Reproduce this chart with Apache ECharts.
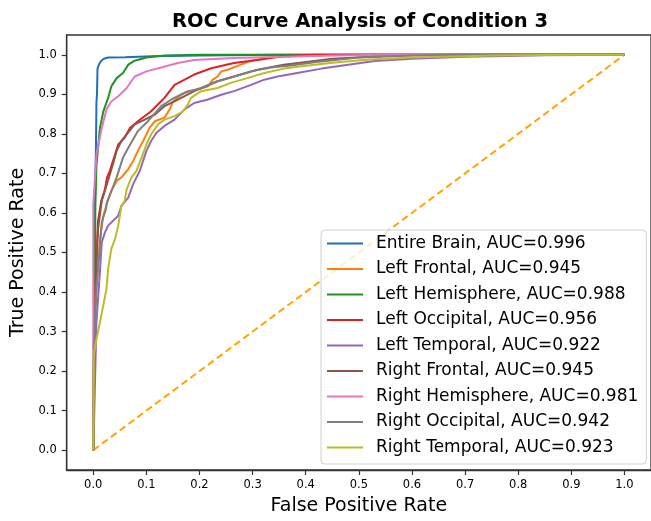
<!DOCTYPE html>
<html>
<head>
<meta charset="utf-8">
<script src="https://cdn.jsdelivr.net/npm/echarts@6/dist/echarts.min.js"></script>
<style>
html,body{margin:0;padding:0;background:#fff;}
#chart{width:651px;height:521px;}
</style>
</head>
<body>
<div id="chart"></div>
<script>
// Tick labels
const tickValues = [0, 0.1, 0.2, 0.3, 0.4, 0.5, 0.6, 0.7, 0.8, 0.9, 1.0];

// Series names
const seriesNames = [
  'Entire Brain, AUC=0.996',
  'Left Frontal, AUC=0.945',
  'Left Hemisphere, AUC=0.988',
  'Left Occipital, AUC=0.956',
  'Left Temporal, AUC=0.922',
  'Right Frontal, AUC=0.945',
  'Right Hemisphere, AUC=0.981',
  'Right Occipital, AUC=0.942',
  'Right Temporal, AUC=0.923'
];

// ROC curves (FPR, TPR)
const entireBrainFpr = [0, 0.002, 0.003, 0.005, 0.006, 0.007, 0.008, 0.011, 0.015, 0.020, 0.028, 0.060, 0.110, 0.200, 0.350, 1.0];
const entireBrainTpr = [0, 0.35, 0.62, 0.76, 0.88, 0.90, 0.965, 0.976, 0.985, 0.990, 0.993, 0.994, 0.996, 0.998, 1.0, 1.0];

const leftFrontalFpr = [0, 0.001, 0.003, 0.008, 0.0126, 0.019, 0.028, 0.034, 0.044, 0.053, 0.066, 0.075, 0.084, 0.094, 0.106, 0.116, 0.134, 0.144, 0.150, 0.166, 0.178, 0.197, 0.216, 0.225, 0.234, 0.241, 0.253, 0.278, 0.297, 0.334, 0.400, 0.500, 1.0];
const leftFrontalTpr = [0, 0.20, 0.34, 0.45, 0.534, 0.593, 0.635, 0.656, 0.681, 0.690, 0.711, 0.731, 0.757, 0.782, 0.815, 0.832, 0.841, 0.862, 0.882, 0.899, 0.908, 0.912, 0.920, 0.937, 0.945, 0.958, 0.962, 0.975, 0.985, 0.993, 0.998, 1.0, 1.0];

const leftHemiFpr = [0, 0.001, 0.003, 0.004, 0.006, 0.0126, 0.019, 0.028, 0.034, 0.044, 0.056, 0.066, 0.078, 0.100, 0.134, 0.200, 1.0];
const leftHemiTpr = [0, 0.25, 0.45, 0.62, 0.72, 0.815, 0.857, 0.891, 0.920, 0.941, 0.954, 0.975, 0.985, 0.993, 0.998, 1.0, 1.0];

const leftOccFpr = [0, 0.002, 0.005, 0.009, 0.015, 0.022, 0.026, 0.031, 0.047, 0.059, 0.069, 0.084, 0.109, 0.134, 0.153, 0.172, 0.190, 0.222, 0.265, 0.309, 0.340, 0.360, 0.420, 1.0];
const leftOccTpr = [0, 0.30, 0.45, 0.58, 0.63, 0.66, 0.69, 0.706, 0.773, 0.790, 0.815, 0.832, 0.857, 0.891, 0.924, 0.937, 0.950, 0.966, 0.979, 0.987, 0.993, 0.997, 1.0, 1.0];

const leftTempFpr = [0, 0.002, 0.003, 0.006, 0.0125, 0.016, 0.022, 0.028, 0.047, 0.053, 0.066, 0.075, 0.0875, 0.100, 0.109, 0.119, 0.134, 0.153, 0.172, 0.190, 0.216, 0.241, 0.265, 0.297, 0.322, 0.347, 0.384, 0.430, 0.480, 0.530, 0.600, 0.700, 0.850, 1.0];
const leftTempTpr = [0, 0.10, 0.157, 0.325, 0.45, 0.526, 0.551, 0.568, 0.593, 0.618, 0.639, 0.673, 0.706, 0.757, 0.782, 0.803, 0.820, 0.836, 0.862, 0.878, 0.887, 0.899, 0.908, 0.924, 0.937, 0.945, 0.954, 0.965, 0.975, 0.984, 0.990, 0.995, 0.999, 1.0];

const rightFrontalFpr = [0, 0.002, 0.005, 0.009, 0.013, 0.016, 0.022, 0.037, 0.044, 0.053, 0.063, 0.078, 0.097, 0.116, 0.134, 0.153, 0.190, 0.234, 0.265, 0.309, 0.359, 0.450, 0.550, 0.650, 1.0];
const rightFrontalTpr = [0, 0.30, 0.45, 0.56, 0.60, 0.631, 0.656, 0.723, 0.757, 0.782, 0.799, 0.824, 0.836, 0.849, 0.870, 0.882, 0.908, 0.933, 0.945, 0.962, 0.975, 0.990, 0.997, 1.0, 1.0];

const rightHemiFpr = [0, 0, 0.006, 0.016, 0.025, 0.034, 0.047, 0.063, 0.078, 0.100, 0.128, 0.159, 0.190, 0.265, 0.360, 0.450, 0.550, 1.0];
const rightHemiTpr = [0, 0.62, 0.748, 0.815, 0.862, 0.882, 0.895, 0.916, 0.945, 0.958, 0.968, 0.979, 0.987, 0.992, 0.995, 0.998, 1.0, 1.0];

const rightOccFpr = [0, 0.001, 0.003, 0.006, 0.011, 0.016, 0.024, 0.025, 0.044, 0.056, 0.066, 0.084, 0.103, 0.128, 0.147, 0.172, 0.203, 0.234, 0.265, 0.297, 0.334, 0.372, 0.420, 0.500, 0.600, 0.700, 1.0];
const rightOccTpr = [0, 0.20, 0.325, 0.41, 0.49, 0.577, 0.61, 0.623, 0.690, 0.740, 0.765, 0.807, 0.832, 0.870, 0.887, 0.904, 0.916, 0.933, 0.945, 0.958, 0.968, 0.973, 0.982, 0.993, 0.998, 1.0, 1.0];

const rightTempFpr = [0, 0.001, 0.004, 0.009, 0.019, 0.025, 0.028, 0.034, 0.041, 0.047, 0.053, 0.059, 0.063, 0.072, 0.081, 0.091, 0.100, 0.109, 0.122, 0.134, 0.153, 0.169, 0.178, 0.184, 0.203, 0.234, 0.259, 0.290, 0.322, 0.359, 0.384, 0.450, 0.520, 0.600, 0.750, 0.900, 1.0];
const rightTempTpr = [0, 0.24, 0.266, 0.30, 0.367, 0.409, 0.459, 0.509, 0.534, 0.568, 0.618, 0.630, 0.660, 0.690, 0.706, 0.740, 0.773, 0.799, 0.824, 0.836, 0.845, 0.857, 0.874, 0.891, 0.908, 0.916, 0.929, 0.941, 0.954, 0.965, 0.970, 0.980, 0.988, 0.993, 0.998, 1.0, 1.0];

// Chance diagonal
const diagFpr = [0, 1];
const diagTpr = [0, 1];

const curveFpr = [entireBrainFpr, leftFrontalFpr, leftHemiFpr, leftOccFpr, leftTempFpr, rightFrontalFpr, rightHemiFpr, rightOccFpr, rightTempFpr];
const curveTpr = [entireBrainTpr, leftFrontalTpr, leftHemiTpr, leftOccTpr, leftTempTpr, rightFrontalTpr, rightHemiTpr, rightOccTpr, rightTempTpr];
const colors = ['#1f6fc0', '#ff7f0e', '#1f951f', '#dc2222', '#9467bd', '#8c564b', '#e377c2', '#7f7f7f', '#bcbd22'];

function zip(xs, ys) { return xs.map((x, i) => [x, ys[i]]); }

const FONT = 'DejaVu Sans';
const series = [{
  name: 'chance',
  type: 'line',
  data: zip(diagFpr, diagTpr),
  showSymbol: false,
  symbol: 'none',
  lineStyle: { color: '#ffa500', width: 2, type: [7, 4] },
  z: 1
}];
seriesNames.forEach((n, i) => {
  series.push({
    name: n,
    type: 'line',
    data: zip(curveFpr[i], curveTpr[i]),
    showSymbol: false,
    symbol: 'none',
    color: colors[i],
    lineStyle: { color: colors[i], width: 2 },
    z: 2 + i
  });
});

const chart = echarts.init(document.getElementById('chart'), null, { renderer: 'canvas' });
chart.setOption({
  animation: false,
  backgroundColor: '#fff',
  title: {
    text: 'ROC Curve Analysis of Condition 3',
    left: 360, top: 12, textAlign: 'center', padding: 0,
    textStyle: { fontFamily: FONT, fontSize: 19.5, fontWeight: 'bold', color: '#000' }
  },
  grid: {
    left: 66.7, top: 35, width: 587, height: 437.3,
    show: true, borderColor: '#333', borderWidth: 1.3, backgroundColor: 'transparent'
  },
  xAxis: {
    type: 'value', min: -0.05, max: 1.05,
    name: 'False Positive Rate', nameLocation: 'middle', nameGap: 27,
    nameTextStyle: { fontFamily: FONT, fontSize: 19, color: '#000' },
    axisLine: { show: true, onZero: false, lineStyle: { color: '#333', width: 1.3 } },
    axisTick: { show: true, length: 5, customValues: tickValues, lineStyle: { color: '#333', width: 1.2 } },
    axisLabel: { customValues: tickValues, margin: 9, fontFamily: FONT, fontSize: 11.5, color: '#000', formatter: v => v.toFixed(1) },
    splitLine: { show: false }
  },
  yAxis: {
    type: 'value', min: -0.05, max: 1.05,
    name: 'True Positive Rate', nameLocation: 'middle', nameGap: 36,
    nameTextStyle: { fontFamily: FONT, fontSize: 19, color: '#000' },
    axisLine: { show: true, onZero: false, lineStyle: { color: '#333', width: 1.3 } },
    axisTick: { show: true, length: 5, customValues: tickValues, lineStyle: { color: '#333', width: 1.2 } },
    axisLabel: { customValues: tickValues, margin: 10, fontFamily: FONT, fontSize: 11.5, color: '#000', formatter: v => v.toFixed(1) },
    splitLine: { show: false }
  },
  legend: {
    data: seriesNames,
    orient: 'vertical',
    left: 321, top: 230,
    padding: [5, 8, 8, 6],
    itemGap: 8.5,
    itemWidth: 36, itemHeight: 2,
    icon: 'rect',
    backgroundColor: 'rgba(255,255,255,0.8)',
    borderColor: '#d0d0d0', borderWidth: 1, borderRadius: 4,
    textStyle: { fontFamily: FONT, fontSize: 17, color: '#000', padding: [0, 0, 0, 8] }
  },
  series: series
});
</script>
</body>
</html>
